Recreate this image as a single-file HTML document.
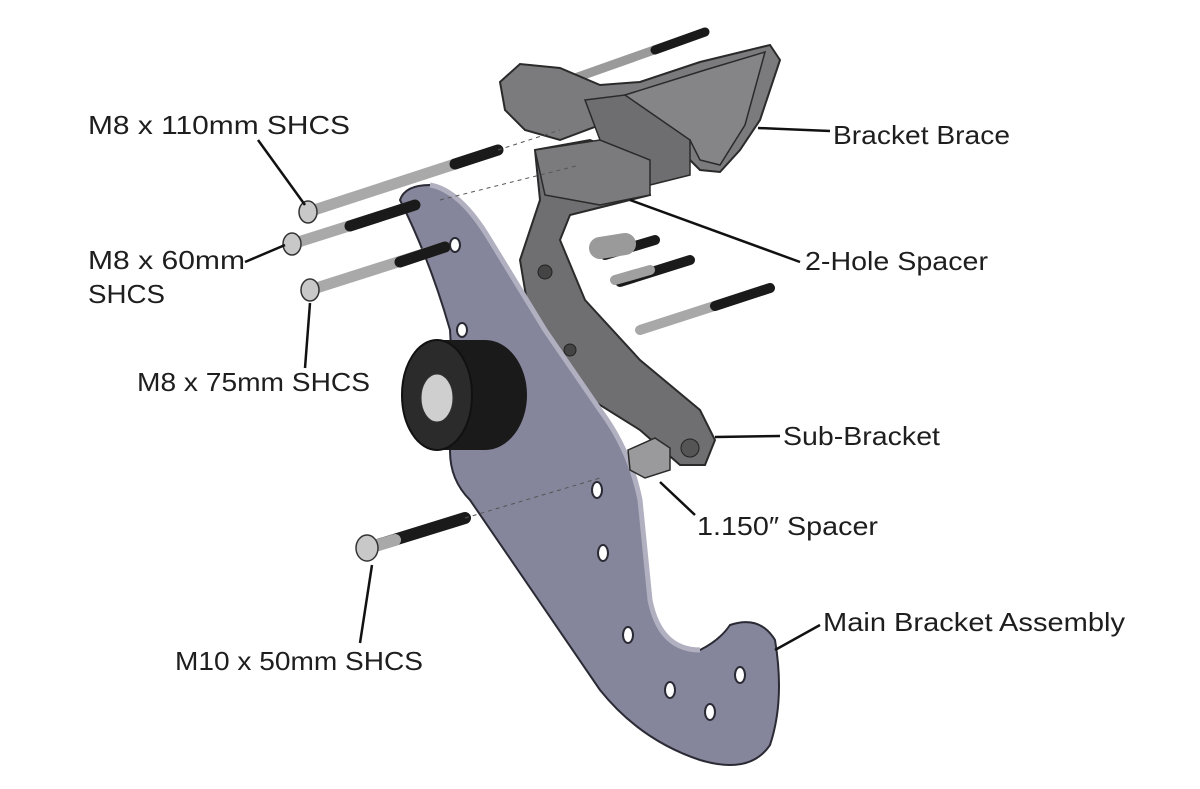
<!DOCTYPE html>
<html><head><meta charset="utf-8"><style>
html,body{margin:0;padding:0;background:#fff;}
svg{display:block}
text{font-family:"Liberation Sans",sans-serif;font-size:26px;fill:#1e1e1e}
</style></head><body>
<svg width="1200" height="789" viewBox="0 0 1200 789" xmlns="http://www.w3.org/2000/svg">
<rect width="1200" height="789" fill="#fff"/>

<g stroke-linecap="round">
<line x1="575" y1="78" x2="705" y2="32" stroke="#9a9a9a" stroke-width="9"/>
<line x1="655" y1="50" x2="705" y2="32" stroke="#1a1a1a" stroke-width="9"/>
</g>

<!-- Bracket brace -->
<polygon points="500,82 520,64 560,68 600,85 640,82 700,62 770,45 780,60 760,120 740,150 720,172 700,170 680,150 640,130 600,125 560,140 525,130 505,110" fill="#7b7b7d" stroke="#2a2a2a" stroke-width="2"/>
<polygon points="625,95 705,70 765,52 745,125 720,165 700,160 690,140 640,125" fill="#858587" stroke="#2a2a2a" stroke-width="1.5"/>
<polygon points="585,100 625,95 690,140 690,175 650,185 600,140" fill="#6e6e70" stroke="#2a2a2a" stroke-width="1.5"/>

<!-- Sub-bracket -->
<polygon points="535,150 590,140 640,160 650,195 610,205 570,215 560,240 585,300 640,360 700,410 715,440 705,465 680,465 640,430 560,380 530,320 520,260 540,200" fill="#6f6f71" stroke="#2a2a2a" stroke-width="2"/>
<polygon points="535,150 600,140 650,160 650,195 600,205 545,195" fill="#7b7b7d" stroke="#2a2a2a" stroke-width="1.5"/>
<circle cx="545" cy="272" r="7" fill="#444" stroke="#222"/>
<circle cx="570" cy="350" r="6" fill="#444" stroke="#222"/>
<circle cx="690" cy="448" r="9" fill="#555" stroke="#222"/>

<g stroke-linecap="round">
<line x1="605" y1="255" x2="655" y2="240" stroke="#1a1a1a" stroke-width="10"/>
<line x1="600" y1="248" x2="625" y2="244" stroke="#9a9a9a" stroke-width="22"/>
<line x1="620" y1="282" x2="690" y2="260" stroke="#1a1a1a" stroke-width="10"/>
<line x1="615" y1="280" x2="650" y2="270" stroke="#a0a0a0" stroke-width="10"/>
<line x1="640" y1="330" x2="770" y2="288" stroke="#a8a8a8" stroke-width="10"/>
<line x1="715" y1="306" x2="770" y2="288" stroke="#1a1a1a" stroke-width="10"/>
</g>

<!-- Main bracket -->
<path d="M400,200 Q405,185 430,185 Q460,190 490,240 L545,330 L600,410 Q630,450 640,500 L650,600 Q660,650 700,650 Q720,640 730,625 Q760,615 775,640 Q785,700 770,745 Q750,775 700,760 Q640,740 600,690 L470,500 Q440,470 455,420 L450,330 Q430,260 400,200 Z" fill="#85859b" stroke="#2a2a35" stroke-width="2"/>
<path d="M430,185 Q460,190 490,240 L545,330 L600,410 Q630,450 640,500 L650,600 Q660,650 700,650" fill="none" stroke="#b0b0c0" stroke-width="5"/>
<g fill="#fff" stroke="#2a2a35" stroke-width="2">
<ellipse cx="455" cy="245" rx="5" ry="7"/>
<ellipse cx="462" cy="330" rx="5" ry="7"/>
<ellipse cx="597" cy="490" rx="5" ry="8"/>
<ellipse cx="603" cy="553" rx="5" ry="8"/>
<ellipse cx="628" cy="635" rx="5" ry="8"/>
<ellipse cx="670" cy="690" rx="5" ry="8"/>
<ellipse cx="710" cy="712" rx="5" ry="8"/>
<ellipse cx="740" cy="675" rx="5" ry="8"/>
</g>

<polygon points="628,450 655,438 670,448 670,470 645,478 630,470" fill="#9a9a9c" stroke="#2a2a2a" stroke-width="1.5"/>

<!-- pulley -->
<ellipse cx="485" cy="395" rx="42" ry="55" fill="#1a1a1a"/>
<rect x="435" y="340" width="50" height="110" fill="#1a1a1a"/>
<ellipse cx="437" cy="395" rx="35" ry="55" fill="#2b2b2b" stroke="#111" stroke-width="2"/>
<ellipse cx="437" cy="398" rx="16" ry="24" fill="#cfcfcf" stroke="#333"/>

<g stroke-linecap="round">
<line x1="308" y1="212" x2="498" y2="150" stroke="#a9a9a9" stroke-width="11"/>
<line x1="455" y1="164" x2="498" y2="150" stroke="#1a1a1a" stroke-width="11"/>
<line x1="292" y1="244" x2="415" y2="205" stroke="#a9a9a9" stroke-width="11"/>
<line x1="350" y1="226" x2="415" y2="205" stroke="#1a1a1a" stroke-width="11"/>
<line x1="310" y1="290" x2="445" y2="247" stroke="#a9a9a9" stroke-width="11"/>
<line x1="400" y1="262" x2="445" y2="247" stroke="#1a1a1a" stroke-width="11"/>
<line x1="368" y1="548" x2="465" y2="518" stroke="#1a1a1a" stroke-width="12"/>
<line x1="368" y1="548" x2="395" y2="540" stroke="#a9a9a9" stroke-width="12"/>
</g>
<g fill="#c8c8c8" stroke="#333" stroke-width="1.5">
<ellipse cx="308" cy="212" rx="9" ry="11"/>
<ellipse cx="292" cy="244" rx="9" ry="11"/>
<ellipse cx="310" cy="290" rx="9" ry="11"/>
<ellipse cx="367" cy="548" rx="11" ry="13"/>
</g>

<g stroke="#555" stroke-width="1" stroke-dasharray="4,4" fill="none">
<line x1="498" y1="150" x2="560" y2="130"/>
<line x1="440" y1="200" x2="580" y2="165"/>
<line x1="465" y1="518" x2="600" y2="478"/>
</g>

<g stroke="#111" stroke-width="2.5" fill="none">
<line x1="258" y1="140" x2="305" y2="205"/>
<line x1="245" y1="262" x2="285" y2="245"/>
<line x1="310" y1="303" x2="305" y2="368"/>
<line x1="758" y1="128" x2="830" y2="131"/>
<line x1="630" y1="200" x2="800" y2="262"/>
<line x1="715" y1="437" x2="780" y2="436"/>
<line x1="660" y1="482" x2="695" y2="515"/>
<line x1="775" y1="650" x2="820" y2="625"/>
<line x1="372" y1="565" x2="360" y2="643"/>
</g>

<text x="88" y="134" textLength="262" lengthAdjust="spacingAndGlyphs">M8 x 110mm SHCS</text>
<text x="833" y="144" textLength="177" lengthAdjust="spacingAndGlyphs">Bracket Brace</text>
<text x="88" y="269" textLength="157" lengthAdjust="spacingAndGlyphs">M8 x 60mm</text>
<text x="88" y="303" textLength="77" lengthAdjust="spacingAndGlyphs">SHCS</text>
<text x="805" y="270" textLength="183" lengthAdjust="spacingAndGlyphs">2-Hole Spacer</text>
<text x="137" y="391" textLength="233" lengthAdjust="spacingAndGlyphs">M8 x 75mm SHCS</text>
<text x="783" y="445" textLength="157" lengthAdjust="spacingAndGlyphs">Sub-Bracket</text>
<text x="697" y="535" textLength="181" lengthAdjust="spacingAndGlyphs">1.150″ Spacer</text>
<text x="823" y="631" textLength="302" lengthAdjust="spacingAndGlyphs">Main Bracket Assembly</text>
<text x="175" y="670" textLength="248" lengthAdjust="spacingAndGlyphs">M10 x 50mm SHCS</text>
</svg>
</body></html>
